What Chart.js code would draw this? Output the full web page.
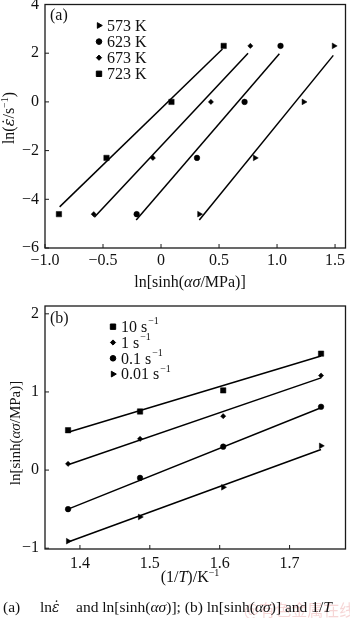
<!DOCTYPE html>
<html>
<head>
<meta charset="utf-8">
<script src="https://cdn.jsdelivr.net/npm/chart.js@4.4.1/dist/chart.umd.min.js"></script>
<style>
  body { margin: 0; background: #fff; width: 350px; height: 618px; position: relative; overflow: hidden;
         font-family: "Liberation Serif", "Times New Roman", serif; color: #111; }
  canvas { position: absolute; left: 0; }
  .t { position: absolute; white-space: nowrap; transform: translate(-50%, -50%); font-size: 16px; line-height: 1; }
  .rot { transform: translate(-50%, -50%) rotate(-90deg); }
  .cap { position: absolute; white-space: nowrap; font-size: 15.5px; line-height: 1; top: 599px; }
  i { font-style: italic; }
  .ed { font-family: "DejaVu Serif", serif; font-style: italic; font-size: 0.9em; }
  sup { font-size: 10px; vertical-align: 0; position: relative; top: -6px; }
  .wm { position: absolute; left: 244px; top: 597px; font-family: "Noto Sans CJK SC", sans-serif;
        font-size: 16px; color: rgba(225, 120, 120, 0.3); white-space: nowrap; }
</style>
</head>
<body>
<canvas id="chartA" width="350" height="300" style="top:0"></canvas>
<canvas id="chartB" width="350" height="290" style="top:300px"></canvas>

<div class="t rot" style="left:9px;top:118px">ln(<span class="ed">ε̇</span>/s<sup>−1</sup>)</div>
<div class="t" style="left:190px;top:282px">ln[sinh(<i>ασ</i>/MPa)]</div>
<div class="t rot" style="left:15px;top:433px;font-size:15px">ln[sinh(<i>ασ</i>/MPa)]</div>
<div class="t" style="left:190px;top:577px">(1/<i>T</i>)/K<sup>−1</sup></div>

<div class="wm">@有色金属在线</div>
<span class="cap" style="left:3px">(a)</span>
<span class="cap" style="left:40px">ln<span class="ed">ε̇</span></span>
<span class="cap" style="left:76px">and ln[sinh(<i>ασ</i>)]; (b) ln[sinh(<i>ασ</i>)] and 1/<i>T</i></span>

<script>
// ===== DATA (a): ln(strain rate) vs ln[sinh(ασ)] =====
const lnRate = [-4.61, -2.30, 0, 2.30];
const tempLabels = ['573 K', '623 K', '673 K', '723 K'];
const sinhA573 = [0.33, 0.81, 1.23, 1.49];
const sinhA623 = [-0.21, 0.31, 0.72, 1.03];
const sinhA673 = [-0.58, -0.07, 0.43, 0.77];
const sinhA723 = [-0.88, -0.47, 0.09, 0.54];
// fitted lines as drawn in the figure: [x0, x1], [y0, y1]
const fitA573x = [0.33, 1.485],   fitA573y = [-4.85, 1.91];
const fitA623x = [-0.214, 1.02],  fitA623y = [-4.85, 1.98];
const fitA673x = [-0.575, 0.75],  fitA673y = [-4.74, 2.0];
const fitA723x = [-0.874, 0.53],  fitA723y = [-4.31, 2.17];
const xTicksA = [-1.0, -0.5, 0, 0.5, 1.0, 1.5];
const yTicksA = [-6, -4, -2, 0, 2, 4];

// ===== DATA (b): ln[sinh(ασ)] vs 1/T =====
const invT = [1.383, 1.486, 1.605, 1.745];
const rateLabels = [['10 s', '−1'], ['1 s', '−1'], ['0.1 s', '−1'], ['0.01 s', '−1']];
const sinhB10 = [0.51, 0.75, 1.02, 1.49];
const sinhB1 = [0.08, 0.40, 0.69, 1.21];
const sinhB01 = [-0.50, -0.10, 0.30, 0.81];
const sinhB001 = [-0.91, -0.60, -0.22, 0.31];
const fitB10y = [0.485, 1.46];
const fitB1y = [0.069, 1.18];
const fitB01y = [-0.50, 0.797];
const fitB001y = [-0.92, 0.264];
const fitBx = [1.383, 1.745];
const xTicksB = [1.4, 1.5, 1.6, 1.7];
const yTicksB = [-1, 0, 1, 2];

// ===== HELPERS =====
const FONT = '"Liberation Serif", "Times New Roman", serif';
const pts = (xs, ys) => xs.map((x, i) => ({ x: x, y: ys[i] }));
const fmtMinus = v => String(v).replace('-', '−');

function markerSet(label, xs, ys, style, radius, rotation) {
  return {
    label: label, data: pts(xs, ys), showLine: false,
    pointStyle: style, pointRadius: radius, pointRotation: rotation || 0,
    pointBackgroundColor: '#000', pointBorderColor: '#000', pointBorderWidth: 0.5
  };
}
function fitSet(xs, ys) {
  return {
    label: '', data: pts(xs, ys), showLine: true, pointRadius: 0,
    borderColor: '#000', borderWidth: 1.5, fill: false
  };
}
function fixedTicks(list) {
  return scale => { scale.ticks = list.map(v => ({ value: v })); };
}

// frame, inward ticks, panel tag and legend
const framePlugin = {
  id: 'frame',
  afterDraw(chart, args, o) {
    const ctx = chart.ctx, a = chart.chartArea;
    const x = chart.scales.x, y = chart.scales.y;
    ctx.save();
    ctx.strokeStyle = '#1a1a1a';
    ctx.lineWidth = 1.3;
    ctx.strokeRect(a.left, a.top, a.right - a.left, a.bottom - a.top);
    ctx.lineWidth = 1;
    ctx.beginPath();
    x.ticks.forEach(t => {
      const px = x.getPixelForValue(t.value);
      ctx.moveTo(px, a.bottom); ctx.lineTo(px, a.bottom - 4);
    });
    y.ticks.forEach(t => {
      const py = y.getPixelForValue(t.value);
      ctx.moveTo(a.left, py); ctx.lineTo(a.left + 4, py);
    });
    ctx.stroke();

    ctx.fillStyle = '#111';
    ctx.textBaseline = 'middle';
    ctx.font = '16px ' + FONT;
    ctx.fillText(o.panel, a.left + 5, a.top + o.panelDy);

    // legend
    o.items.forEach((it, i) => {
      const ds = chart.data.datasets[it.ds];
      const ly = a.top + o.legTop + i * o.legStep;
      ctx.fillStyle = '#000';
      ctx.strokeStyle = '#000';
      Chart.helpers.drawPoint(ctx, {
        pointStyle: ds.pointStyle, radius: ds.pointRadius,
        rotation: ds.pointRotation, borderWidth: 0.5
      }, a.left + o.legMark, ly);
      ctx.fillStyle = '#111';
      ctx.font = '16px ' + FONT;
      const txt = Array.isArray(it.text) ? it.text : [it.text];
      ctx.fillText(txt[0], a.left + o.legText, ly + 1);
      if (txt[1]) {
        const w = ctx.measureText(txt[0]).width;
        ctx.font = '10px ' + FONT;
        ctx.fillText(txt[1], a.left + o.legText + w + 1, ly - 5);
      }
    });
    ctx.restore();
  }
};

function baseScales(xMin, xMax, yMin, yMax, xt, yt, xH, yW, xPad) {
  const tickFont = { family: FONT, size: 16 };
  return {
    x: {
      type: 'linear', min: xMin, max: xMax,
      afterBuildTicks: fixedTicks(xt),
      afterFit: s => { s.height = xH; s.paddingLeft = 0; s.paddingRight = 0; },
      grid: { display: false, drawTicks: false },
      border: { display: false },
      ticks: { font: tickFont, color: '#111', padding: xPad,
               callback: v => v === 0 ? '0' : fmtMinus((Math.round(v * 10) / 10).toFixed(1)) }
    },
    y: {
      type: 'linear', min: yMin, max: yMax,
      afterBuildTicks: fixedTicks(yt),
      afterFit: s => { s.width = yW; s.paddingTop = 0; s.paddingBottom = 0; },
      grid: { display: false, drawTicks: false },
      border: { display: false },
      ticks: { font: tickFont, color: '#111', padding: 6, callback: v => fmtMinus(v) }
    }
  };
}

// ===== CHART (a) =====
new Chart(document.getElementById('chartA'), {
  type: 'scatter',
  data: {
    datasets: [
      markerSet(tempLabels[0], sinhA573, lnRate, 'triangle', 3.3, 90),
      markerSet(tempLabels[1], sinhA623, lnRate, 'circle', 2.8),
      markerSet(tempLabels[2], sinhA673, lnRate, 'rectRot', 2.6),
      markerSet(tempLabels[3], sinhA723, lnRate, 'rect', 3.8),
      fitSet(fitA573x, fitA573y),
      fitSet(fitA623x, fitA623y),
      fitSet(fitA673x, fitA673y),
      fitSet(fitA723x, fitA723y)
    ]
  },
  options: {
    responsive: false, animation: false,
    layout: { padding: { top: 4, right: 2, left: 0, bottom: 0 } },
    plugins: {
      legend: { display: false }, tooltip: { enabled: false },
      frame: {
        panel: '(a)', panelDy: 11, legMark: 54, legText: 62, legTop: 21, legStep: 16.1,
        items: tempLabels.map((t, i) => ({ ds: i, text: t }))
      }
    },
    scales: baseScales(-1.0, 1.59, -6, 4, xTicksA, yTicksA, 52, 45, 3)
  },
  plugins: [framePlugin]
});

// ===== CHART (b) =====
new Chart(document.getElementById('chartB'), {
  type: 'scatter',
  data: {
    datasets: [
      markerSet(rateLabels[0].join(''), invT, sinhB10, 'rect', 3.8),
      markerSet(rateLabels[1].join(''), invT, sinhB1, 'rectRot', 2.6),
      markerSet(rateLabels[2].join(''), invT, sinhB01, 'circle', 2.8),
      markerSet(rateLabels[3].join(''), invT, sinhB001, 'triangle', 3.3, 90),
      fitSet(fitBx, fitB10y),
      fitSet(fitBx, fitB1y),
      fitSet(fitBx, fitB01y),
      fitSet(fitBx, fitB001y)
    ]
  },
  options: {
    responsive: false, animation: false,
    layout: { padding: { top: 6, right: 2, left: 0, bottom: 0 } },
    plugins: {
      legend: { display: false }, tooltip: { enabled: false },
      frame: {
        panel: '(b)', panelDy: 13, legMark: 68, legText: 76, legTop: 20.7, legStep: 15.8,
        items: rateLabels.map((t, i) => ({ ds: i, text: t }))
      }
    },
    scales: baseScales(1.35, 1.78, -1.01, 2.1, xTicksB, yTicksB, 41, 45, 5)
  },
  plugins: [framePlugin]
});
</script>
</body>
</html>
